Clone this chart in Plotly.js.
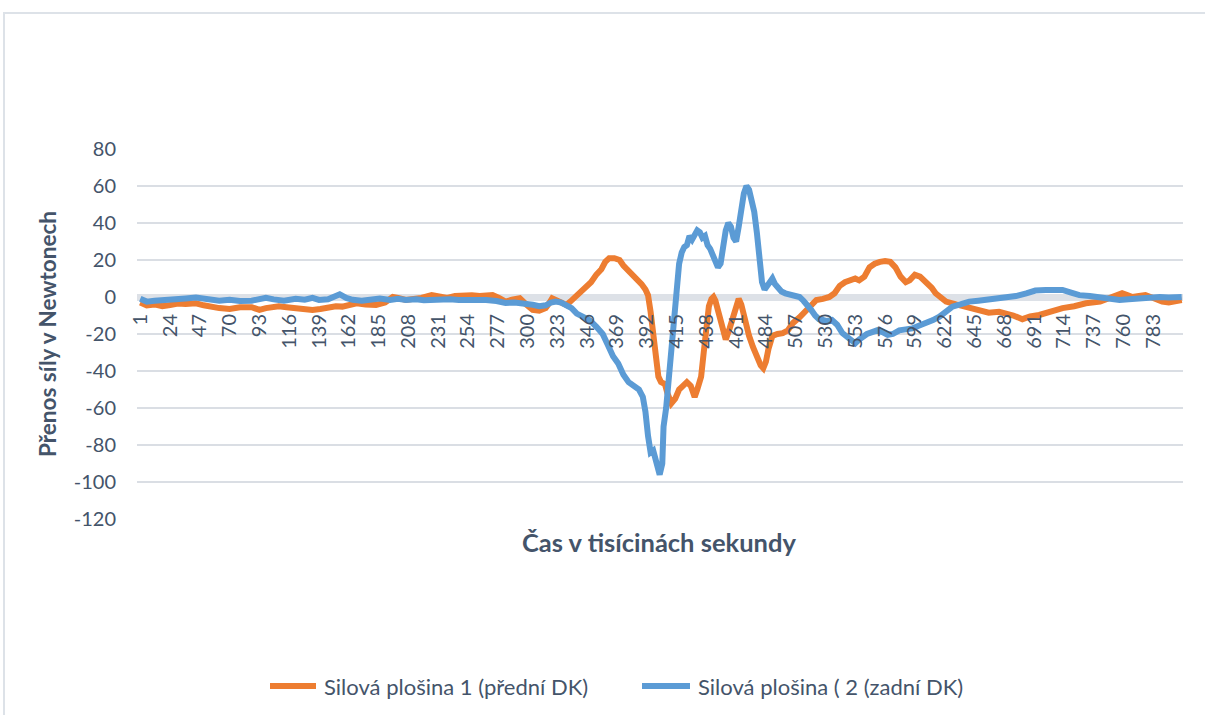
<!DOCTYPE html>
<html>
<head>
<meta charset="utf-8">
<script src="https://cdn.plot.ly/plotly-3.0.1.min.js"></script>
<style>
  html, body { margin: 0; padding: 0; background: #ffffff; }
  #frame { position: absolute; left: 3px; top: 12px; width: 1300px; height: 800px;
           border-left: 2px solid #dde2e8; border-top: 2px solid #dde2e8; pointer-events: none; }
  #chart { position: absolute; left: 0; top: 0; width: 1205px; height: 715px; }
</style>
</head>
<body>
<div id="chart"></div>
<div id="frame"></div>
<script>
// ---- data ----
const seriesNames = ["Silová plošina 1 (přední DK)", "Silová plošina ( 2 (zadní DK)"];
const yTitle = "Přenos síly v Newtonech";
const xTitle = "Čas v tisícinách sekundy";
const tickLabels = ["1","24","47","70","93","116","139","162","185","208","231","254","277","300","323","346","369","392","415","438","461","484","507","530","553","576","599","622","645","668","691","714","737","760","783"];
const yTickValues = [80, 60, 40, 20, 0, -20, -40, -60, -80, -100, -120];
const yTickLabels = ["80", "60", "40", "20", "0", "-20", "-40", "-60", "-80", "-100", "-120"];

const orangeX = [1,6,12,18,24,30,36,44,50,56,62,70,78,87,93,98,104,108,114,121,127,134,140,147,152,157,163,168,175,183,190,196,200,206,212,218,226,232,238,244,250,257,263,268,273,278,283,288,294,299,304,309,314,317,319,323,327,330,333,337,341,345,349,353,357,360,363,367,371,374,376,380,384,388,391,393,395,397,399,401,403,406,408,411,414,417,420,423,426,429,431,434,436,438,440,442,443.5,445,448,450,453,456,458,461,463,465,467,469,471,474,477,480,482,484,486,489,493,497,501,505,510,515,519,523,528,533,537,541,545,549,553,556,560,564,568,572,576,580,584,588,592,595,599,603,608,612,615,619,623,628,634,641,649,656,664,669,675,682,688,695,703,713,722,731,742,748,752,756,759,763,767,772,777,783,790,795,800,805];
const orangeY = [-3,-4.5,-4,-5,-4.3,-3.5,-3.8,-3.4,-4.5,-5.5,-6,-6.5,-5.5,-5.5,-7,-6,-5,-5,-5.5,-6,-6.5,-7,-6.5,-5.5,-5,-5.2,-4,-3.4,-4,-4.3,-3,0,-0.5,-1.6,-1,-0.5,1,0.5,-0.5,0.5,1,1,0.5,0.5,1,-0.5,-2.5,-1.5,-0.7,-4,-7,-7.4,-6,-3,-0.7,-2,-3.5,-4.3,-2.5,0,3,6,8,12,15,19,21,21,20,17,15.5,13,10.5,7,4,1,-8,-22,-34,-43,-46,-47,-52,-57.5,-55,-50,-48,-46,-48,-54,-50,-43,-30,-15,-5,-1,0,-2,-10,-17,-23,-17,-12,-5,-1,-4,-10,-16,-21,-27,-33,-37,-38.5,-35,-28,-21,-20,-19.5,-18,-14,-11,-7,-4,-1.6,-1,0,2,6,8,9,10,9,11,16,18,19,19.5,19,16,11,8,9,12,11,8,5,2,0,-2.5,-3.4,-4.5,-6,-8,-8.5,-8,-8.8,-10,-12,-10.5,-9.7,-8,-6,-5,-3.4,-2.5,-1,0,1,2,1,0,0.5,1,-0.5,-2.5,-3,-2.5,-1.6];

const blueX = [1,6,12,18,24,30,36,44,50,56,62,70,78,87,94,98,104,112,121,128,134,139,146,152,155,160,165,172,180,186,194,200,206,214,220,226,234,240,247,254,262,268,276,283,290,299,304,309,314,318,322,326,330,334,338,343,348,353,358,362,366,370,374,378,382,386,389,391,393,395,397,399,401,402,404,405,407,409,411,413,415,417,419,421,423,425,427,429,431,433,435,437,439,441,443,445,447,449,451,453,455,457,459,461,463,465,467,469,471,473,475,477,479,481,483,485,487,489,491,493,496,499,503,507,510,513,516,519,522,525,528,531,535,539,543,547,550,553,556,559,562,566,570,574,578,582,587,592,597,602,608,613,618,623,628,634,641,648,654,661,669,677,685,692,700,706,713,719,726,734,742,750,757,764,772,780,788,795,805];
const blueY = [-1,-2.5,-2,-1.5,-1.8,-1.2,-0.8,-0.3,-1,-1.8,-2,-1.5,-2.2,-2,-1.2,-0.4,-1.3,-2,-1,-1.5,-0.5,-1.6,-1.2,1,1.5,-0.5,-1.5,-2,-1.5,-0.8,-1.6,-1,-1.6,-1.2,-1.8,-1.4,-1.6,-1.2,-1.6,-1.4,-1.8,-1.6,-2.2,-3.2,-3,-3.4,-4.2,-5,-4.5,-3,-2.5,-3,-4.3,-6,-9,-10.5,-12.5,-16,-20,-26,-32,-36,-42,-46,-48,-50,-54,-62,-75,-84,-83,-88,-93,-96,-90,-70,-60,-45,-28,-12,5,18,24,27,28,33,31,34,36,35,32,33,28,26,22,18,16,18,28,36,40,38,32,30,38,50,56,60,58,52,46,35,18,8,4,6,8,10,7,5,3,2,1.5,0.5,0,-2,-4,-7,-10,-12,-12.4,-13,-12.4,-15,-19.5,-22,-24,-25,-23,-21,-20,-19,-18,-19,-20.5,-20,-18,-17.5,-17,-15.5,-14,-12.5,-10.6,-8,-5.2,-4,-2.5,-2,-1.6,-1.2,-0.7,0.5,2,3.5,3.8,4,3.8,2.5,1,0.5,0,-1,-1.6,-1.2,-0.7,-0.3,0,-0.3,0];

// ---- layout geometry ----
const W = 1205, H = 715;
const mL = 137, mR = 22, mT = 149, mB = 196;
const pw = W - mL - mR, ph = H - mT - mB;
const px = v => (v - mL) / pw;       // pixel x -> paper x
const py = v => (H - mB - v) / ph;   // pixel y -> paper y

const FONT = "Lato, 'Open Sans', sans-serif";
const TXT = "#44546a";
const orangeC = "#ed7d31", blueC = "#5b9bd5";

const tickVals = tickLabels.map(Number);

const traces = [
  {x: orangeX, y: orangeY, type: "scatter", mode: "lines", name: seriesNames[0],
   line: {color: orangeC, width: 6}, showlegend: false, hoverinfo: "skip"},
  {x: blueX, y: blueY, type: "scatter", mode: "lines", name: seriesNames[1],
   line: {color: blueC, width: 6}, showlegend: false, hoverinfo: "skip"}
];

const legY = 686;
const layout = {
  width: W, height: H,
  margin: {l: mL, r: mR, t: mT, b: mB, pad: 0},
  paper_bgcolor: "rgba(0,0,0,0)", plot_bgcolor: "#ffffff",
  font: {family: FONT, color: TXT, size: 20},
  showlegend: false,
  xaxis: {
    type: "linear", range: [-1.5, 806], anchor: "free", position: 0.6,
    tickmode: "array", tickvals: tickVals, ticktext: tickLabels,
    tickangle: -90, showgrid: false, zeroline: false, showline: false,
    ticks: "", ticklabelstandoff: 12,
    tickfont: {family: FONT, size: 20, color: TXT}
  },
  yaxis: {
    range: [-120, 80], tickmode: "array", tickvals: yTickValues, ticktext: yTickLabels,
    showgrid: true, gridcolor: "#dadee4", gridwidth: 1.5,
    zeroline: true, zerolinecolor: "#dde1e7", zerolinewidth: 7,
    showline: false, ticks: "", ticklabelstandoff: 20,
    tickfont: {family: FONT, size: 20, color: TXT}
  },
  annotations: [
    {text: "<b>" + yTitle + "</b>", xref: "paper", yref: "paper", x: px(47), y: py(334),
     textangle: -90, showarrow: false, xanchor: "center", yanchor: "middle",
     font: {family: FONT, size: 22.5, color: TXT}},
    {text: "<b>" + xTitle + "</b>", xref: "paper", yref: "paper", x: px(659), y: py(542),
     showarrow: false, xanchor: "center", yanchor: "middle",
     font: {family: FONT, size: 25.5, color: TXT}},
    {text: seriesNames[0], xref: "paper", yref: "paper", x: px(322), y: py(legY),
     showarrow: false, xanchor: "left", yanchor: "middle",
     font: {family: FONT, size: 22, color: TXT}},
    {text: seriesNames[1], xref: "paper", yref: "paper", x: px(696), y: py(legY),
     showarrow: false, xanchor: "left", yanchor: "middle",
     font: {family: FONT, size: 22, color: TXT}}
  ],
  shapes: [
    {type: "line", xref: "paper", yref: "paper", x0: px(270), x1: px(316), y0: py(legY), y1: py(legY),
     line: {color: orangeC, width: 6}},
    {type: "line", xref: "paper", yref: "paper", x0: px(642), x1: px(690), y0: py(legY), y1: py(legY),
     line: {color: blueC, width: 6}}
  ]
};

Plotly.newPlot("chart", traces, layout, {staticPlot: true, displayModeBar: false});
</script>
</body>
</html>
